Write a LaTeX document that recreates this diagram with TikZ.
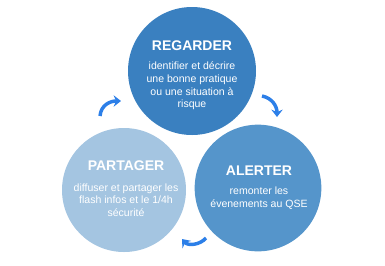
\documentclass[tikz,border=0pt]{standalone}
\usepackage{fontspec}
\setmainfont{Liberation Sans}
\usetikzlibrary{arrows.meta}
\definecolor{cTop}{HTML}{3A80C0}
\definecolor{cRight}{HTML}{5595CB}
\definecolor{cLeft}{HTML}{A4C5E1}
\definecolor{cArrow}{HTML}{2C7FE8}
\tikzset{
  disc/.style={circle, draw=none, minimum size=#1, inner sep=0pt},
  title/.style={text=white, font=\bfseries\fontsize{10.5}{12}\selectfont},
  body/.style={text=white, align=center, font=\fontsize{7.9}{9.4}\selectfont},
  cyc/.style={draw=cArrow, line width=2.6pt, -{Stealth[length=5.5pt,width=8.5pt,inset=1.8pt]}},
}
\begin{document}
\begin{tikzpicture}[x=0.75pt,y=-0.75pt]
\useasboundingbox (0,0) rectangle (385,265);
\node[disc=96pt, fill=cTop] (top) at (192,71) {};
\node[disc=93pt, fill=cLeft] (left) at (124,190) {};
\node[disc=95pt, fill=cRight] (right) at (258,188) {};
\node[title] (t1) at (192,46) {REGARDER};
\node[body] (b1) at (192,86) {identifier et décrire\\une bonne pratique\\ou une situation à\\risque};
\node[title] (t2) at (126,166) {PARTAGER};
\node[body] (b2) at (126,200) {diffuser et partager les\\flash infos et le 1/4h\\sécurité};
\node[title] (t3) at (259,171) {ALERTER};
\node[body] (b3) at (259,198) {remonter les\\évenements au QSE};
\coordinate (a1s) at (100,116);
\coordinate (a1e) at (121,101);
\coordinate (a2s) at (262,96);
\coordinate (a2e) at (277,117);
\coordinate (a3s) at (206,238);
\coordinate (a3e) at (182,239);
\draw[cyc] (a1s) .. controls (101,105) and (110,101) .. (a1e);
\draw[cyc] (a2s) .. controls (272,98) and (277,106) .. (a2e);
\draw[cyc] (a3s) .. controls (200,245) and (188,246) .. (a3e);
\end{tikzpicture}
\end{document}
